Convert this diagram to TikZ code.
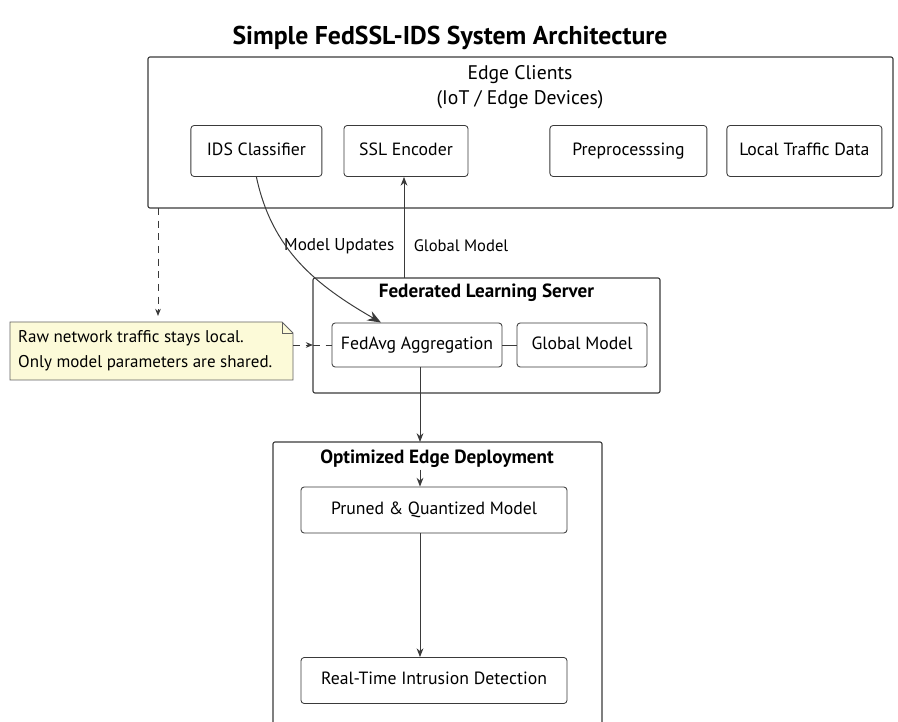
\documentclass[tikz,border=0pt]{standalone}
\usepackage{fontspec}
\setmainfont{PT Sans}
\usetikzlibrary{arrows.meta,calc,positioning}

\definecolor{linegray}{RGB}{58,58,58}
\definecolor{noteyellow}{RGB}{252,250,216}

\tikzset{
    box/.style={draw=linegray, rounded corners=0.08cm, line width=0.6pt,
        minimum height=1.275cm, text height=0.75em, text depth=0.15em,
        font=\fontsize{12.6}{15}\selectfont},
    group/.style={draw=linegray, rounded corners=0.05cm, line width=0.8pt},
    grouptitle/.style={font=\fontsize{13.6}{17}\selectfont\bfseries, fill=white, inner sep=1pt},
    link/.style={draw=linegray, line width=0.7pt},
    tip/.style={-{Stealth[length=2.2mm,width=1.7mm]}},
}

\begin{document}
\begin{tikzpicture}
\useasboundingbox (0,0) rectangle (22.45,-18.05);

% title
\node (title) at (11.25,-0.95) {\fontsize{18.3}{22}\selectfont\bfseries Simple FedSSL-IDS System Architecture};

% edge clients
\draw [group] (3.7,-1.425) rectangle (22.325,-5.2);
\coordinate (edgeSW) at (3.7,-5.2);
\node [align=center, font=\fontsize{14}{17.5}\selectfont] (edgetitle) at (13.0,-2.175) {Edge Clients\\(IoT / Edge Devices)};
\node [box, minimum width=3.275cm] (ids) at (6.41,-3.775) {IDS Classifier};
\node [box, minimum width=3.1cm] (ssl) at (10.15,-3.775) {SSL Encoder};
\node [box, minimum width=3.925cm] (prep) at (15.71,-3.775) {Preprocesssing};
\node [box, minimum width=3.875cm] (local) at (20.11,-3.775) {Local Traffic Data};

% server
\draw [group] (7.825,-6.95) rectangle (16.5,-9.825);
\coordinate (serverN) at (10.1,-6.95);
\coordinate (serverW) at (7.825,-8.625);
\node [grouptitle] (servertitle) at (12.16,-7.33) {Federated Learning Server};
\node [box, minimum width=4.25cm, minimum height=1.1cm] (fedavg) at (10.425,-8.625) {FedAvg Aggregation};
\node [box, minimum width=3.25cm, minimum height=1.1cm] (gm) at (14.55,-8.625) {Global Model};

% deployment
\draw [group] (6.825,-11.05) rectangle (15.05,-19);
\coordinate (deployN) at (10.5,-11.05);
\node [grouptitle] (deploytitle) at (10.925,-11.475) {Optimized Edge Deployment};
\node [box, minimum width=6.65cm, minimum height=1.15cm] (pruned) at (10.85,-12.75) {Pruned \& Quantized Model};
\node [box, minimum width=6.65cm, minimum height=1.15cm] (rtid) at (10.85,-17.0125) {Real-Time Intrusion Detection};

% note
\coordinate (noteNW) at (0.25,-8.05);
\coordinate (noteSE) at (7.325,-9.5);
\filldraw [draw=linegray!80, fill=noteyellow, line width=0.6pt]
    (noteNW) -- (7.05,-8.05) -- (7.325,-8.325) -- (noteSE) -- (0.25,-9.5) -- cycle;
\draw [linegray!80, line width=0.6pt] (7.05,-8.05) -- (7.05,-8.325) -- (7.325,-8.325);
\node [anchor=west, align=left, font=\fontsize{12.1}{17.5}\selectfont] (note) at (0.33,-8.775)
    {Raw network traffic stays local.\\Only model parameters are shared.};

% connectors
\draw [link, tip] (serverN) -- (ssl.south -| serverN);
\node [anchor=east, font=\fontsize{12.2}{15}\selectfont] (upd) at (9.98,-6.15) {Model Updates};
\node [anchor=west, font=\fontsize{11.8}{15}\selectfont] (glob) at (10.22,-6.15) {Global Model};
\draw [link, -{Stealth[length=3.4mm,width=2.6mm]}] (ids.south) to [out=-78, in=150] ([xshift=-0.9cm]fedavg.north);
\draw [link, dashed, dash pattern=on 5pt off 4pt, -{Stealth[length=1.8mm,width=1.4mm]}, shorten >=0.15cm]
    ([xshift=0.25cm]edgeSW) -- ([xshift=0.25cm]edgeSW |- noteNW);
\draw [link, dashed, dash pattern=on 5pt off 4pt, -{Stealth[length=1.8mm,width=1.4mm]}] (noteSE |- fedavg) -- (serverW);
\draw [link, dashed, dash pattern=on 5pt off 4pt] (serverW) -- (fedavg.west);
\draw [link] (fedavg.east) -- (gm.west);
\draw [link, tip] (fedavg.south -| deployN) -- (deployN);
\draw [link, tip] (deploytitle.south -| deployN) -- (pruned.north -| deployN);
\draw [link, tip] (pruned.south -| deployN) -- (rtid.north -| deployN);
\end{tikzpicture}
\end{document}
